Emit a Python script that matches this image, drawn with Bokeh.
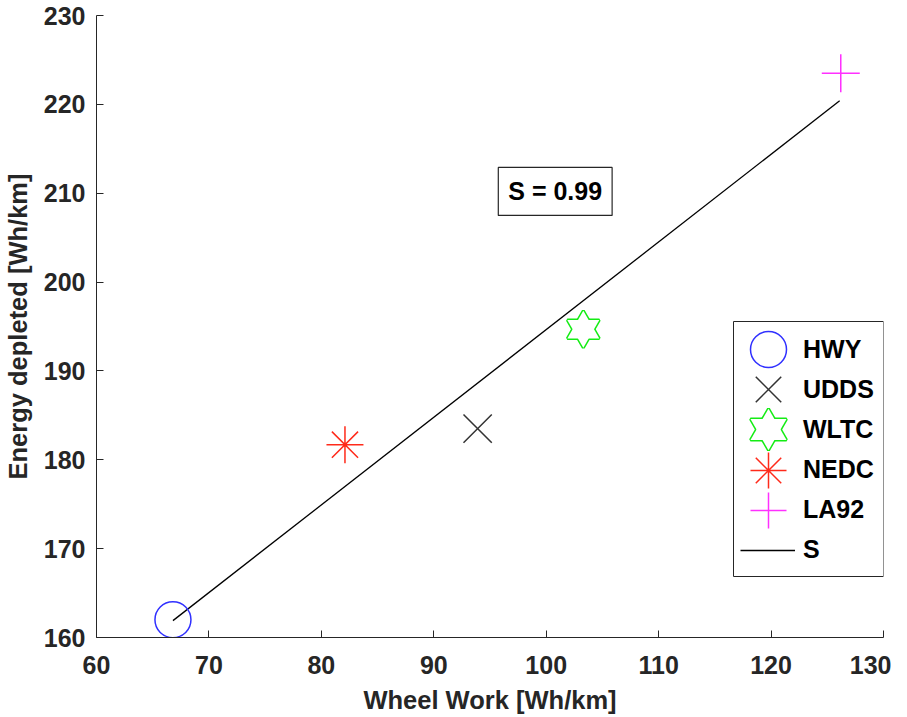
from bokeh.plotting import figure
from bokeh.models import Range1d, FixedTicker, Legend, LegendItem, Label, BoxAnnotation
from bokeh.embed import file_html
from bokeh.resources import INLINE

# ---- data ----
cycles = ["HWY", "UDDS", "WLTC", "NEDC", "LA92"]
wheel_work = [66.8, 93.9, 103.3, 82.1, 126.2]          # Wh/km
energy_depleted = [162.0, 183.5, 194.7, 181.7, 223.5]  # Wh/km
fit_x = [66.8, 126.1]
fit_y = [161.9, 220.4]
fit_name = "S"
fit_text = "S = 0.99"
fit_text_pos = (100.8, 210.2)
x_ticks = [60, 70, 80, 90, 100, 110, 120, 130]
y_ticks = [160, 170, 180, 190, 200, 210, 220, 230]

FONT = "Liberation Sans"
AX = "#262626"
BLUE = "#3030ff"
GRAY = "#333333"
GREEN = "#14ec14"
RED = "#ff2a1a"
MAG = "#ff30ff"
FS = "25px"

p = figure(frame_width=787, frame_height=622,
           x_range=Range1d(60, 130), y_range=Range1d(160, 230),
           output_backend="svg", toolbar_location=None,
           min_border_left=91, min_border_right=8,
           min_border_top=15, min_border_bottom=71)
p.outline_line_color = None
p.xgrid.visible = False
p.ygrid.visible = False
p.background_fill_color = "white"
p.border_fill_color = "white"

p.xaxis.ticker = FixedTicker(ticks=x_ticks)
p.yaxis.ticker = FixedTicker(ticks=y_ticks)
p.xaxis.axis_label = "Wheel Work [Wh/km]"
p.yaxis.axis_label = "Energy depleted [Wh/km]"
for ax in (p.xaxis[0], p.yaxis[0]):
    ax.axis_line_color = AX
    ax.axis_line_width = 1
    ax.major_tick_line_color = AX
    ax.major_tick_in = 7
    ax.major_tick_out = 0
    ax.minor_tick_line_color = None
    ax.major_label_text_font = FONT
    ax.major_label_text_font_size = FS
    ax.major_label_text_font_style = "bold"
    ax.major_label_text_color = AX
    ax.axis_label_text_font = FONT
    ax.axis_label_text_font_size = "25.5px"
    ax.axis_label_text_font_style = "bold"
    ax.axis_label_text_color = AX
p.xaxis.major_label_standoff = 18
p.xaxis.axis_label_standoff = 9
p.yaxis.major_label_standoff = 11
p.yaxis.axis_label_standoff = 9

# fitted line
r_fit = p.line(fit_x, fit_y, line_color="black", line_width=1.3)


def pt(i):
    return dict(x=[wheel_work[i]], y=[energy_depleted[i]])


r_hwy = p.scatter(**pt(0), marker="circle", size=36, fill_color=None,
                  line_color=BLUE, line_width=1.5)
r_udds = p.scatter(**pt(1), marker="x", size=40, line_color=GRAY, line_width=1.5)
# hexagram: two outlined triangles, interior masked by white triangles
w1 = p.scatter(**pt(2), marker="triangle", size=32, fill_color=None,
               line_color=GREEN, line_width=3)
w2 = p.scatter(**pt(2), marker="inverted_triangle", size=32, fill_color=None,
               line_color=GREEN, line_width=3)
w3 = p.scatter(**pt(2), marker="triangle", size=32, fill_color="white", line_color=None)
w4 = p.scatter(**pt(2), marker="inverted_triangle", size=32, fill_color="white", line_color=None)
r_nedc = p.scatter(**pt(3), marker="asterisk", size=37, line_color=RED, line_width=1.5)
r_la92 = p.scatter(**pt(4), marker="cross", size=38, line_color=MAG, line_width=1.5)

# legend-only helper (no data) for the text column
leg_blank = p.scatter(x=[], y=[], size=1, fill_alpha=0, line_alpha=0)

# legend frame (screen units, relative to the plot frame)
leg_box = BoxAnnotation(left=637, right=787, top=316, bottom=61,
                        left_units="screen", right_units="screen",
                        top_units="screen", bottom_units="screen",
                        fill_color="white", fill_alpha=1,
                        line_color=AX, line_width=1, line_alpha=1)
p.add_layout(leg_box)

# one swatch legend per row so the swatches can be large and tightly spaced
swatches = [[r_hwy], [r_udds], [w1, w2, w3, w4], [r_nedc], [r_la92]]
row_y = [243, 203, 163, 122, 82]
for rends, vy in zip(swatches, row_y):
    sw = Legend(items=[LegendItem(label=" ", renderers=rends)], location=(627, vy),
                glyph_width=90, glyph_height=90, padding=0, spacing=0,
                label_standoff=0, label_width=0, margin=0,
                border_line_color=None, background_fill_alpha=0,
                label_text_font_size="2px")
    p.add_layout(sw)

# line swatch for the fit
sw_line = Legend(items=[LegendItem(label=" ", renderers=[r_fit])], location=(644, 67),
                 glyph_width=55, glyph_height=40, padding=0, spacing=0,
                 label_standoff=0, label_width=0, margin=0,
                 border_line_color=None, background_fill_alpha=0,
                 label_text_font_size="2px")
p.add_layout(sw_line)

# text column of the legend
labels = cycles + [fit_name]
txt_legend = Legend(items=[LegendItem(label=t, renderers=[leg_blank]) for t in labels],
                    location=(706, 68), orientation="vertical",
                    glyph_width=1, glyph_height=40, label_height=40, label_width=20,
                    padding=0, spacing=0, label_standoff=0, margin=0,
                    border_line_color=None, background_fill_alpha=0,
                    label_text_font=FONT, label_text_font_size=FS,
                    label_text_font_style="bold", label_text_color="black")
p.add_layout(txt_legend)

lab = Label(x=fit_text_pos[0], y=fit_text_pos[1], text=fit_text,
            text_align="center", text_baseline="middle",
            text_font=FONT, text_font_size=FS, text_font_style="bold",
            text_color="black", border_line_color=AX, border_line_width=1.2,
            background_fill_color="white", padding=10)
p.add_layout(lab)

open("out.html", "w").write(file_html(p, INLINE))
